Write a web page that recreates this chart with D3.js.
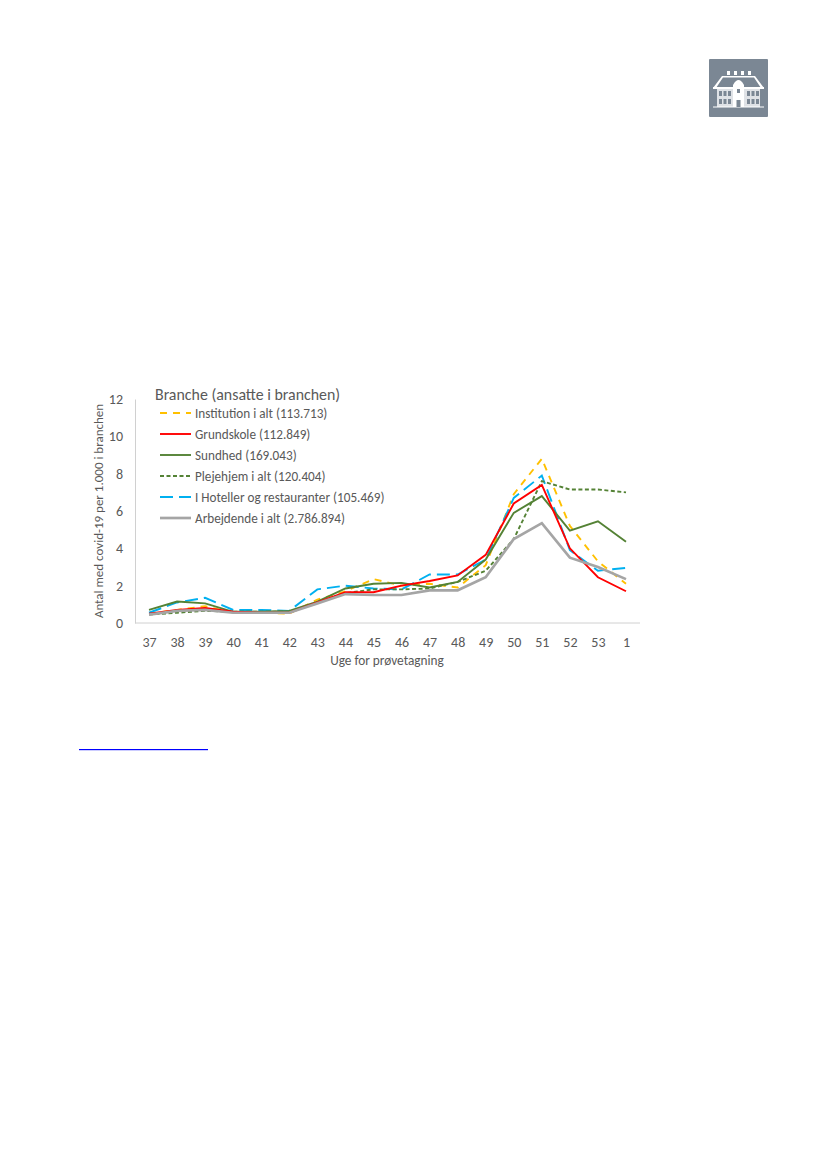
<!DOCTYPE html>
<html>
<head>
<meta charset="utf-8">
<script src="https://cdn.jsdelivr.net/npm/d3@7"></script>
<style>
  html, body { margin: 0; padding: 0; background: #fff; }
  svg { display: block; font-family: Carlito, "Open Sans", "Noto Sans", sans-serif; }
  text { fill: #595959; }
</style>
</head>
<body>
<div id="page"></div>
<script>
  var weeks = ['37','38','39','40','41','42','43','44','45','46','47','48','49','50','51','52','53','1'];
  var yTicks = [0, 2, 4, 6, 8, 10, 12];

  var institution = [0.5, 0.7, 0.9, 0.55, 0.55, 0.5, 1.25, 1.7, 2.35, 2.0, 2.1, 1.9, 3.1, 6.9, 8.8, 5.2, 3.3, 2.1];
  var grundskole  = [0.5, 0.7, 0.8, 0.6, 0.55, 0.55, 1.1, 1.65, 1.65, 2.0, 2.25, 2.55, 3.65, 6.4, 7.4, 4.0, 2.45, 1.7];
  var sundhed     = [0.7, 1.15, 1.05, 0.6, 0.6, 0.65, 1.15, 1.85, 2.1, 2.15, 1.9, 2.2, 3.4, 5.9, 6.8, 4.95, 5.45, 4.35];
  var plejehjem   = [0.45, 0.55, 0.65, 0.6, 0.6, 0.6, 1.1, 1.6, 1.8, 1.8, 1.85, 2.2, 2.8, 4.5, 7.6, 7.15, 7.15, 7.0];
  var hoteller    = [0.55, 1.1, 1.35, 0.7, 0.7, 0.65, 1.8, 2.0, 1.85, 1.8, 2.6, 2.6, 3.4, 6.7, 7.9, 3.9, 2.8, 2.95];
  var arbejdende  = [0.45, 0.65, 0.7, 0.55, 0.55, 0.55, 1.05, 1.55, 1.5, 1.5, 1.75, 1.75, 2.45, 4.5, 5.35, 3.5, 3.0, 2.35];

  var seriesNames = ['Institution i alt (113.713)', 'Grundskole (112.849)', 'Sundhed (169.043)', 'Plejehjem i alt (120.404)', 'I Hoteller og restauranter (105.469)', 'Arbejdende i alt (2.786.894)'];
  var seriesValues = [institution, grundskole, sundhed, plejehjem, hoteller, arbejdende];
  var seriesColors = ['#ffc000', '#ff0000', '#548235', '#548235', '#00b0f0', '#a5a5a5'];
  var seriesDash = ['7,6', null, null, '4,2.5', '13,6', null];
  var seriesWidth = [1.9, 1.9, 1.9, 1.9, 1.9, 2.7];
  // drawing order differs from the legend: grey ends up on top at the low weeks
  var drawOrder = [0, 4, 3, 2, 1, 5];

  var svg = d3.select('#page').append('svg').attr('width', 827).attr('height', 1169);

  var x = d3.scalePoint().domain(weeks).range([149, 626]);
  var y = d3.scaleLinear().domain([0, 12]).range([623, 399]);

  // axes
  var xAxis = svg.append('g').attr('transform', 'translate(0,' + y(0) + ')')
    .call(d3.axisBottom(x).tickSize(0).tickPadding(14));
  xAxis.select('.domain').attr('d', 'M135,0H640').attr('stroke', '#d0d0d0');
  var yAxis = svg.append('g').attr('transform', 'translate(135,0)')
    .call(d3.axisLeft(y).tickValues(yTicks).tickSize(0).tickPadding(12));
  yAxis.select('.domain').attr('stroke', '#d0d0d0');
  xAxis.attr('font-family', null).attr('font-size', null);
  yAxis.attr('font-family', null).attr('font-size', null);
  svg.selectAll('.tick text').attr('font-size', 14).style('fill', '#595959');

  svg.append('text').attr('x', 387).attr('y', 665).attr('text-anchor', 'middle')
    .attr('font-size', 13.3).text('Uge for prøvetagning');
  svg.append('text').attr('transform', 'translate(103,511) rotate(-90)').attr('text-anchor', 'middle')
    .attr('font-size', 13).text('Antal med covid-19 per 1.000 i branchen');

  // lines
  var line = d3.line().x(function(d, i) { return x(weeks[i]); }).y(function(d) { return y(d); });
  svg.selectAll('.series').data(drawOrder).enter().append('path').attr('class', 'series')
    .attr('fill', 'none')
    .attr('d', function(k) { return line(seriesValues[k]); })
    .attr('stroke', function(k) { return seriesColors[k]; })
    .attr('stroke-width', function(k) { return seriesWidth[k]; })
    .attr('stroke-dasharray', function(k) { return seriesDash[k]; });

  // legend
  svg.append('text').attr('x', 155).attr('y', 400).attr('font-size', 15.9).text('Branche (ansatte i branchen)');
  var legendY = d3.scalePoint().domain(seriesNames).range([413, 518]);
  var legend = svg.selectAll('.legend').data(seriesNames).enter().append('g').attr('class', 'legend')
    .attr('transform', function(d) { return 'translate(0,' + legendY(d) + ')'; });
  legend.append('line').attr('x1', 160).attr('x2', 191)
    .attr('stroke', function(d, i) { return seriesColors[i]; })
    .attr('stroke-width', function(d, i) { return seriesWidth[i]; })
    .attr('stroke-dasharray', function(d, i) { return seriesDash[i]; });
  legend.append('text').attr('x', 195).attr('y', 4.5).attr('font-size', 13.2).text(function(d) { return d; });

  // link underline under the chart
  svg.append('rect').attr('x', 79).attr('y', 749).attr('width', 129).attr('height', 1.2).attr('fill', '#0000ff');

  // logo: building on grey square
  var logo = svg.append('g').attr('transform', 'translate(709,59)');
  logo.append('rect').attr('width', 59).attr('height', 58).attr('rx', 1).attr('fill', '#7b8794');
  logo.append('path').attr('fill', '#fff')
    .attr('d', 'M4,29 L13,17 H46 L55,29 H52 L45,18.5 H14 L7,29 Z');
  logo.append('rect').attr('x', 4).attr('y', 28).attr('width', 51).attr('height', 2).attr('fill', '#fff');
  logo.append('rect').attr('x', 8).attr('y', 30).attr('width', 43).attr('height', 18).attr('fill', '#dfe2e6');
  logo.append('rect').attr('x', 4).attr('y', 47.5).attr('width', 51).attr('height', 1).attr('fill', '#fff');
  logo.append('path').attr('fill', '#fff').attr('d', 'M24,48 V26 Q29.5,16 35,26 V48 Z');
  logo.append('g').selectAll('rect').data(d3.range(4)).enter().append('rect')
    .attr('x', function(d) { return 18 + d * 7; }).attr('y', 12).attr('width', 3).attr('height', 4).attr('fill', '#fff');
  [10, 14.5, 19, 38, 42.5, 47].forEach(function(wx) {
    [32, 40].forEach(function(wy) {
      logo.append('rect').attr('x', wx).attr('y', wy).attr('width', 3).attr('height', 5).attr('fill', '#7b8794');
    });
  });
  logo.append('rect').attr('x', 28).attr('y', 30).attr('width', 3).attr('height', 4).attr('fill', '#7b8794');
  logo.append('rect').attr('x', 27.5).attr('y', 41).attr('width', 4).attr('height', 7).attr('fill', '#7b8794');
</script>
</body>
</html>
